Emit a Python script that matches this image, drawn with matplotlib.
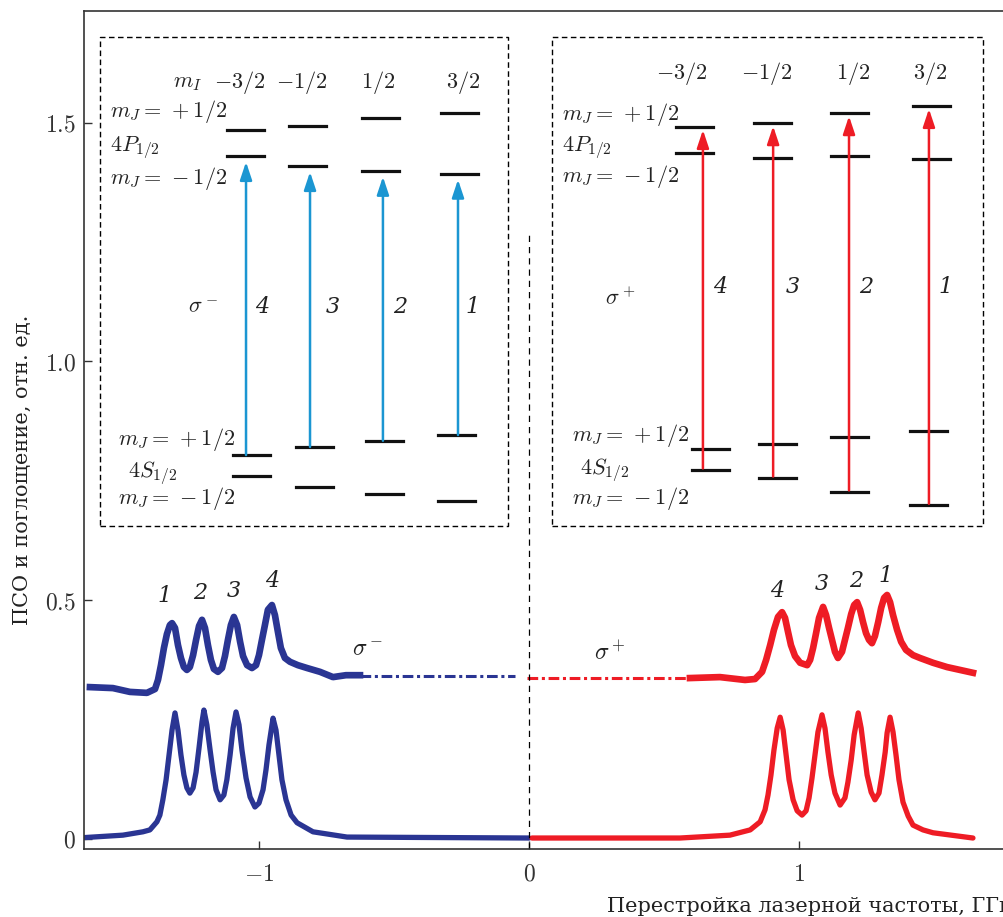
import matplotlib.pyplot as plt

plt.rcParams['mathtext.fontset'] = 'cm'
plt.rcParams['font.family'] = ['DejaVu Serif']

# lower curves: absorption (sigma- blue, sigma+ red)
abs_minus_x = [-1.644, -1.504, -1.430, -1.404, -1.378, -1.367, -1.356, -1.344, -1.333, -1.322,
               -1.311, -1.300, -1.289, -1.278, -1.267, -1.256, -1.244, -1.233, -1.222, -1.211,
               -1.204, -1.193, -1.181, -1.170, -1.159, -1.144, -1.130, -1.119, -1.107, -1.096,
               -1.085, -1.074, -1.063, -1.048, -1.033, -1.015, -1.000, -0.985, -0.974, -0.963,
               -0.948, -0.937, -0.926, -0.915, -0.900, -0.881, -0.859, -0.800, -0.674, 0.0]
abs_minus_y = [0.003, 0.008, 0.015, 0.019, 0.036, 0.050, 0.082, 0.124, 0.176, 0.228,
               0.264, 0.228, 0.176, 0.134, 0.107, 0.096, 0.107, 0.140, 0.191, 0.245,
               0.270, 0.239, 0.186, 0.140, 0.103, 0.082, 0.092, 0.124, 0.176, 0.232,
               0.266, 0.239, 0.186, 0.128, 0.088, 0.067, 0.075, 0.103, 0.145, 0.197,
               0.253, 0.228, 0.176, 0.124, 0.082, 0.050, 0.034, 0.015, 0.004, 0.002]
abs_plus_x = [0.011, 0.559, 0.744, 0.819, 0.856, 0.874, 0.885, 0.896, 0.907, 0.919,
              0.930, 0.941, 0.952, 0.963, 0.978, 0.993, 1.011, 1.026, 1.037, 1.048,
              1.059, 1.070, 1.085, 1.096, 1.107, 1.119, 1.133, 1.152, 1.170, 1.181,
              1.193, 1.204, 1.219, 1.230, 1.241, 1.252, 1.267, 1.281, 1.296, 1.307,
              1.319, 1.326, 1.337, 1.348, 1.359, 1.370, 1.385, 1.404, 1.422, 1.459,
              1.496, 1.644]
abs_plus_y = [0.002, 0.002, 0.008, 0.019, 0.036, 0.061, 0.092, 0.134, 0.186, 0.232,
              0.255, 0.228, 0.176, 0.124, 0.082, 0.059, 0.050, 0.059, 0.086, 0.128,
              0.176, 0.224, 0.260, 0.232, 0.182, 0.134, 0.096, 0.071, 0.086, 0.119,
              0.165, 0.218, 0.264, 0.232, 0.182, 0.134, 0.098, 0.082, 0.096, 0.134,
              0.182, 0.222, 0.255, 0.224, 0.176, 0.124, 0.077, 0.048, 0.029, 0.019,
              0.013, 0.002]

# upper curves: signal (PSO)
pso_minus_x = [-1.626, -1.541, -1.478, -1.415, -1.385, -1.374, -1.363, -1.352, -1.341, -1.330,
               -1.322, -1.311, -1.300, -1.289, -1.278, -1.267, -1.256, -1.244, -1.233, -1.222,
               -1.211, -1.200, -1.189, -1.178, -1.167, -1.152, -1.137, -1.126, -1.115, -1.104,
               -1.093, -1.081, -1.070, -1.059, -1.044, -1.026, -1.011, -1.000, -0.989, -0.978,
               -0.967, -0.952, -0.941, -0.930, -0.919, -0.904, -0.885, -0.856, -0.822, -0.774,
               -0.726, -0.678, -0.626]
pso_minus_y = [0.318, 0.316, 0.308, 0.306, 0.314, 0.333, 0.364, 0.400, 0.429, 0.448,
               0.452, 0.442, 0.406, 0.379, 0.360, 0.354, 0.360, 0.385, 0.417, 0.446,
               0.459, 0.442, 0.406, 0.375, 0.356, 0.350, 0.358, 0.383, 0.417, 0.448,
               0.465, 0.448, 0.413, 0.383, 0.364, 0.358, 0.364, 0.385, 0.417, 0.448,
               0.480, 0.490, 0.469, 0.434, 0.400, 0.379, 0.371, 0.364, 0.358, 0.350,
               0.339, 0.343, 0.343]
pso_plus_x = [0.596, 0.707, 0.800, 0.837, 0.863, 0.878, 0.893, 0.907, 0.922, 0.937,
              0.948, 0.959, 0.970, 0.985, 1.004, 1.030, 1.041, 1.052, 1.063, 1.074,
              1.089, 1.100, 1.111, 1.122, 1.133, 1.144, 1.159, 1.170, 1.181, 1.193,
              1.204, 1.215, 1.226, 1.237, 1.248, 1.259, 1.270, 1.281, 1.293, 1.304,
              1.315, 1.326, 1.337, 1.348, 1.363, 1.378, 1.396, 1.422, 1.448, 1.496,
              1.548, 1.596, 1.644]
pso_plus_y = [0.337, 0.339, 0.333, 0.335, 0.350, 0.375, 0.406, 0.438, 0.465, 0.475,
              0.463, 0.434, 0.406, 0.383, 0.369, 0.364, 0.375, 0.400, 0.431, 0.463,
              0.486, 0.469, 0.442, 0.417, 0.392, 0.379, 0.392, 0.417, 0.442, 0.471,
              0.490, 0.496, 0.480, 0.454, 0.431, 0.417, 0.410, 0.425, 0.454, 0.484,
              0.505, 0.511, 0.496, 0.469, 0.438, 0.413, 0.396, 0.385, 0.379, 0.369,
              0.360, 0.354, 0.348]
dash_minus_x = [-0.626, -0.052]
dash_minus_y = [0.341, 0.341]
dash_plus_x = [-0.007, 0.596]
dash_plus_y = [0.337, 0.337]

peak_lbl_minus = ['1', '2', '3', '4']
peak_lbl_minus_x = [-1.348, -1.219, -1.093, -0.952]
peak_lbl_minus_y = [0.509, 0.516, 0.520, 0.541]
peak_lbl_plus = ['4', '3', '2', '1']
peak_lbl_plus_x = [0.919, 1.085, 1.211, 1.322]
peak_lbl_plus_y = [0.520, 0.534, 0.540, 0.551]

# level diagrams
mI_labels = ['$-3/2$', '$-1/2$', '$1/2$', '$3/2$']
trans_num_left = ['4', '3', '2', '1']
trans_num_right = ['4', '3', '2', '1']

L_P_x = [-1.050, -0.822, -0.550, -0.257]
L_S_x = [-1.026, -0.796, -0.537, -0.269]
L_arrow_x = [-1.048, -0.811, -0.541, -0.263]
L_P_up = [1.485, 1.493, 1.510, 1.520]
L_P_lo = [1.430, 1.409, 1.399, 1.393]
L_S_up = [0.804, 0.821, 0.834, 0.846]
L_S_lo = [0.760, 0.737, 0.723, 0.708]
L_mI_x = [-1.070, -0.841, -0.559, -0.244]
L_num_x = [-0.989, -0.726, -0.478, -0.211]

R_P_x = [0.613, 0.902, 1.185, 1.489]
R_S_x = [0.672, 0.920, 1.185, 1.478]
R_arrow_x = [0.644, 0.904, 1.185, 1.481]
R_P_up = [1.491, 1.499, 1.520, 1.535]
R_P_lo = [1.437, 1.426, 1.430, 1.424]
R_S_up = [0.817, 0.827, 0.842, 0.854]
R_S_lo = [0.773, 0.756, 0.727, 0.699]
R_mI_x = [0.567, 0.881, 1.200, 1.485]
R_num_x = [0.707, 0.978, 1.248, 1.544]

blue = '#2a3593'
red = '#ee1c25'
arrow_blue = '#1b96d2'
arrow_red = '#ee1c25'

fig = plt.figure(figsize=(10.04, 9.17), dpi=100)
ax = fig.add_axes([84 / 1004, 68 / 917, 940 / 1004, 838 / 917])
ax.set_xlim(-1.648, 1.833)
ax.set_ylim(-0.021, 1.734)

# curves
ax.plot(abs_minus_x, abs_minus_y, color=blue, lw=3.8, solid_joinstyle='round', solid_capstyle='round')
ax.plot(abs_plus_x, abs_plus_y, color=red, lw=3.8, solid_joinstyle='round', solid_capstyle='round')
ax.plot(pso_minus_x, pso_minus_y, color=blue, lw=4.8, solid_joinstyle='round')
ax.plot(pso_plus_x, pso_plus_y, color=red, lw=4.8, solid_joinstyle='round')
ax.plot(dash_minus_x, dash_minus_y, color=blue, lw=2.2, ls=(0, (3.5, 1.2, 1, 1.2)))
ax.plot(dash_plus_x, dash_plus_y, color=red, lw=2.2, ls=(0, (3.5, 1.2, 1, 1.2)))

ax.plot([0, 0], [-0.021, 1.265], color='black', lw=0.9, ls=(0, (5, 4)))

for t, x, y in zip(peak_lbl_minus, peak_lbl_minus_x, peak_lbl_minus_y):
    ax.text(x, y, t, fontsize=16, style='italic', ha='center', va='center', color='#222')
for t, x, y in zip(peak_lbl_plus, peak_lbl_plus_x, peak_lbl_plus_y):
    ax.text(x, y, t, fontsize=16, style='italic', ha='center', va='center', color='#222')
ax.text(-0.596, 0.396, r'$\sigma^-$', fontsize=17, ha='center', va='center', color='#222')
ax.text(0.30, 0.390, r'$\sigma^+$', fontsize=17, ha='center', va='center', color='#222')

# dashed boxes
for x0, x1 in [(-1.589, -0.078), (0.085, 1.681)]:
    ax.plot([x0, x1, x1, x0, x0], [0.656, 0.656, 1.680, 1.680, 0.656],
            color='black', lw=1.0, ls=(0, (4, 2.5)))

hw = 0.0685
lvl_kw = dict(color='#111', lw=2.3)
txt_kw = dict(fontsize=16, color='#222')
arrow_style = '-|>,head_length=0.6,head_width=0.2'


def levels(Px, Sx, Pup, Plo, Sup, Slo):
    for i in range(4):
        ax.plot([Px[i] - hw, Px[i] + hw], [Pup[i], Pup[i]], **lvl_kw)
        ax.plot([Px[i] - hw, Px[i] + hw], [Plo[i], Plo[i]], **lvl_kw)
        ax.plot([Sx[i] - hw, Sx[i] + hw], [Sup[i], Sup[i]], **lvl_kw)
        ax.plot([Sx[i] - hw, Sx[i] + hw], [Slo[i], Slo[i]], **lvl_kw)


levels(L_P_x, L_S_x, L_P_up, L_P_lo, L_S_up, L_S_lo)
levels(R_P_x, R_S_x, R_P_up, R_P_lo, R_S_up, R_S_lo)

# sigma- : S(+1/2) -> P(-1/2)
for i in range(4):
    ax.annotate('', xy=(L_arrow_x[i], L_P_lo[i] - 0.012), xytext=(L_arrow_x[i], L_S_up[i]),
                arrowprops=dict(arrowstyle=arrow_style, color=arrow_blue, lw=1.8,
                                mutation_scale=18, shrinkA=0, shrinkB=0))
# sigma+ : S(-1/2) -> P(+1/2)
for i in range(4):
    ax.annotate('', xy=(R_arrow_x[i], R_P_up[i] - 0.006), xytext=(R_arrow_x[i], R_S_lo[i] + 0.003),
                arrowprops=dict(arrowstyle=arrow_style, color=arrow_red, lw=1.8,
                                mutation_scale=18, shrinkA=0, shrinkB=0))

mj_up = r'$m_J = \,+1/2$'
mj_lo = r'$m_J = \,-1/2$'

# diagram texts, left
ax.text(-1.264, 1.585, r'$m_I$', ha='center', va='center', **txt_kw)
for t, x in zip(mI_labels, L_mI_x):
    ax.text(x, 1.585, t, ha='center', va='center', **txt_kw)
ax.text(-1.552, 1.523, mj_up, ha='left', va='center', **txt_kw)
ax.text(-1.552, 1.447, r'$4P_{1/2}$', ha='left', va='center', **txt_kw)
ax.text(-1.552, 1.384, mj_lo, ha='left', va='center', **txt_kw)
ax.text(-1.522, 0.836, mj_up, ha='left', va='center', **txt_kw)
ax.text(-1.485, 0.765, r'$4S_{1/2}$', ha='left', va='center', **txt_kw)
ax.text(-1.522, 0.712, mj_lo, ha='left', va='center', **txt_kw)
ax.text(-1.207, 1.114, r'$\sigma^-$', ha='center', va='center', **txt_kw)
for t, x in zip(trans_num_left, L_num_x):
    ax.text(x, 1.114, t, ha='center', va='center', style='italic', **txt_kw)

# diagram texts, right
for t, x in zip(mI_labels, R_mI_x):
    ax.text(x, 1.604, t, ha='center', va='center', **txt_kw)
ax.text(0.122, 1.518, mj_up, ha='left', va='center', **txt_kw)
ax.text(0.122, 1.447, r'$4P_{1/2}$', ha='left', va='center', **txt_kw)
ax.text(0.122, 1.388, mj_lo, ha='left', va='center', **txt_kw)
ax.text(0.159, 0.846, mj_up, ha='left', va='center', **txt_kw)
ax.text(0.189, 0.772, r'$4S_{1/2}$', ha='left', va='center', **txt_kw)
ax.text(0.159, 0.714, mj_lo, ha='left', va='center', **txt_kw)
ax.text(0.337, 1.133, r'$\sigma^+$', ha='center', va='center', **txt_kw)
for t, x in zip(trans_num_right, R_num_x):
    ax.text(x, 1.156, t, ha='center', va='center', style='italic', **txt_kw)

# axes styling
ax.set_xticks([-1, 0, 1], [r'$-1$', r'$0$', r'$1$'])
ax.set_yticks([0, 0.5, 1.0, 1.5], [r'$0$', r'$0.5$', r'$1.0$', r'$1.5$'])
ax.tick_params(direction='in', length=6, width=1, colors='#333', labelsize=17)
ax.tick_params(axis='x', pad=10)
ax.tick_params(axis='y', pad=6)
for s in ax.spines.values():
    s.set_color('#333')
    s.set_linewidth(1.2)

# the reference figure is cropped on the right, so the x label runs off the edge
fig.text(607 / 1004, 1 - 907 / 917, 'Перестройка лазерной частоты, ГГц',
         fontsize=15, ha='left', va='center', color='#222')
fig.text(22 / 1004, 1 - 470 / 917, 'ПСО и поглощение, отн. ед.',
         fontsize=15, rotation=90, ha='center', va='center', color='#222')

fig.savefig('out.png', dpi=100)
